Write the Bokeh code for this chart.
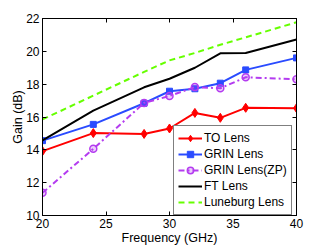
from bokeh.plotting import figure
from bokeh.models import LinearAxis, Legend, LegendItem, Range1d, FixedTicker
from bokeh.embed import file_html
from bokeh.resources import INLINE

freq = [20, 24, 28, 30, 32, 34, 36, 40]
to_lens = [13.92, 15.02, 14.97, 15.3, 16.25, 15.95, 16.56, 16.54]
grin = [14.56, 15.55, 16.84, 17.57, 17.72, 18.06, 18.87, 19.6]
grin_zp = [11.38, 14.06, 16.86, 17.28, 17.82, 17.75, 18.42, 18.3]
ft = [14.57, 16.39, 17.81, 18.33, 19.0, 19.88, 19.9, 20.72]
luneburg = [15.85, 17.3, 18.75, 19.45, 19.9, 20.4, 20.85, 21.77]
names = ["TO Lens", "GRIN Lens", "GRIN Lens(ZP)", "FT Lens", "Luneburg Lens"]
x_ticks = [20, 25, 30, 35, 40]
y_ticks = [10, 12, 14, 16, 18, 20, 22]

FONT = "Liberation Sans"
RED = "#ff0000"
BLUE = "#2a4bff"
PURPLE = "#b43cf0"
GREEN = "#66ff00"

p = figure(frame_width=254, frame_height=197, output_backend="svg", toolbar_location=None,
           x_range=Range1d(20, 40), y_range=Range1d(10, 22),
           min_border_left=42, min_border_top=18, min_border_right=14, min_border_bottom=28)
p.background_fill_color = "white"
p.border_fill_color = "white"
p.outline_line_color = "black"
p.outline_line_width = 1
p.xgrid.visible = False
p.ygrid.visible = False

for ax in (p.xaxis[0], p.yaxis[0]):
    ax.major_tick_in = 4
    ax.major_tick_out = 0
    ax.minor_tick_line_color = None
    ax.axis_line_color = "black"
    ax.major_label_text_font = FONT
    ax.major_label_text_font_size = "12px"
    ax.major_label_text_color = "black"
    ax.axis_label_text_font = FONT
    ax.axis_label_text_font_size = "12.5px"
    ax.axis_label_text_font_style = "normal"
    ax.axis_label_text_color = "black"
p.xaxis[0].ticker = FixedTicker(ticks=x_ticks)
p.yaxis[0].ticker = FixedTicker(ticks=y_ticks)
p.xaxis[0].axis_label = "Frequency (GHz)"
p.yaxis[0].axis_label = "Gain (dB)"
p.xaxis[0].major_label_standoff = 3
p.xaxis[0].axis_label_standoff = 0
p.yaxis[0].major_label_standoff = 3
p.yaxis[0].axis_label_standoff = -2

top = LinearAxis(ticker=FixedTicker(ticks=x_ticks), major_tick_in=4, major_tick_out=0,
                 minor_tick_line_color=None,
                 major_label_overrides={t: "" for t in x_ticks},
                 major_label_standoff=0)
right = LinearAxis(ticker=FixedTicker(ticks=y_ticks), major_tick_in=4, major_tick_out=0,
                   minor_tick_line_color=None,
                   major_label_overrides={t: "" for t in y_ticks},
                   major_label_standoff=0)
p.add_layout(top, "above")
p.add_layout(right, "right")

lw = 2
r1 = p.line(freq, to_lens, color=RED, line_width=lw)
m1 = p.scatter(freq, to_lens, marker="diamond", size=9, color=RED)
r2 = p.line(freq, grin, color=BLUE, line_width=lw)
m2 = p.scatter(freq, grin, marker="square", size=6, color=BLUE)
r3 = p.line(freq, grin_zp, color=PURPLE, line_width=lw, line_dash="6 3 2 3")
m3 = p.scatter(freq, grin_zp, marker="circle", size=7, line_color=PURPLE, line_width=1.5,
               fill_color=PURPLE, fill_alpha=0.25)
r4 = p.line(freq, ft, color="black", line_width=lw)
r5 = p.line(freq, luneburg, color=GREEN, line_width=lw, line_dash="6 4")

legend = Legend(items=[
    LegendItem(label=names[0], renderers=[r1, m1]),
    LegendItem(label=names[1], renderers=[r2, m2]),
    LegendItem(label=names[2], renderers=[r3, m3]),
    LegendItem(label=names[3], renderers=[r4]),
    LegendItem(label=names[4], renderers=[r5]),
], location=(131, 0))
legend.label_text_font = FONT
legend.label_text_font_size = "12px"
legend.label_text_color = "black"
legend.glyph_width = 24
legend.glyph_height = 16
legend.label_height = 16
legend.label_standoff = 2
legend.spacing = 0
legend.padding = 4
legend.margin = 0
legend.border_line_color = "black"
legend.border_line_width = 1
legend.background_fill_color = "white"
legend.background_fill_alpha = 1
p.add_layout(legend, "center")

open("out.html", "w").write(file_html(p, INLINE))
